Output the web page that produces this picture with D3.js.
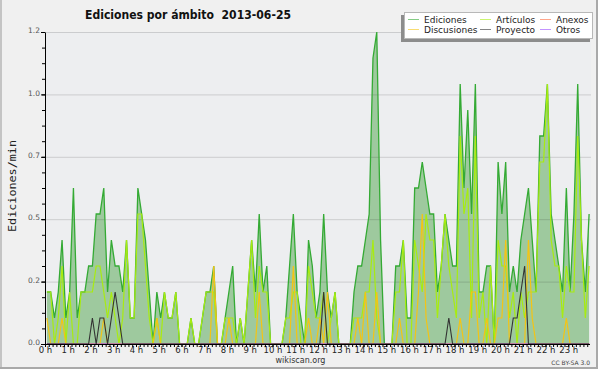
<!DOCTYPE html>
<html lang="es">
<head>
<meta charset="UTF-8">
<title>Ediciones por ámbito</title>
<script src="https://d3js.org/d3.v7.min.js"></script>
<style>
  body { margin: 0; background: #ffffff; }
  svg text { font-family: "DejaVu Sans", sans-serif; }
</style>
</head>
<body>
<div id="chart"></div>
<script>
// one value every 10 minutes, edits per minute
const ediciones = [
  0.2,0.2,0.1,0.2,0.4,0.1,0.2,0.6,0.1,0.2,0.2,0.3,
  0.3,0.5,0.5,0.6,0.2,0.4,0.3,0.3,0.2,0.4,0.1,0.1,
  0.6,0.5,0.4,0.2,0,0.2,0.1,0.2,0.1,0.1,0.2,0,
  0,0,0.1,0,0,0.1,0.2,0.2,0.3,0,0,0.1,
  0.2,0.3,0,0.1,0,0.2,0.4,0.2,0.5,0.2,0.3,0,
  0,0,0,0.1,0.3,0.5,0.2,0.1,0,0.4,0.3,0.1,
  0.2,0.5,0.2,0.1,0.2,0,0,0,0,0.2,0.3,0.3,
  0.4,0.5,1.1,1.2,0.4,0,0,0,0.3,0.3,0.4,0.1,
  0.1,0.6,0.6,0.7,0.6,0.5,0.5,0.2,0.3,0.5,0.4,0.3,
  0.3,1.0,0.6,0.9,0.5,1.0,0.2,0.2,0.3,0.3,0,0.7,
  0.5,0.7,0.2,0.3,0.2,0.4,0.5,0.6,0.4,0.2,0.8,0.8,
  1.0,0.5,0.4,0.3,0.2,0.6,0.2,0.5,1.0,0.4,0.2,0.5
];
const articulos = [
  0.2,0.2,0,0.1,0.3,0,0.2,0,0,0.2,0.2,0.2,
  0.2,0.3,0.3,0.2,0.1,0.2,0.1,0,0.1,0.4,0.1,0.1,
  0.5,0.5,0.3,0.1,0,0.1,0,0.2,0.1,0.1,0.2,0,
  0,0,0.1,0,0,0.1,0.2,0.2,0.2,0,0,0.1,
  0.1,0.1,0,0.1,0,0.2,0.4,0.1,0.3,0.2,0.2,0,
  0,0,0,0.1,0.1,0.2,0.2,0,0,0.3,0.2,0.1,
  0.1,0.2,0,0.1,0.2,0,0,0,0,0.1,0.1,0.1,
  0.2,0.2,0.4,0.1,0,0,0,0,0.2,0.2,0.4,0,
  0,0.4,0.3,0.2,0.5,0.4,0.4,0.1,0.3,0.5,0.3,0.2,
  0.1,0.8,0.5,0.6,0.1,0.8,0.1,0.2,0,0.3,0,0.4,
  0.3,0.3,0.1,0.2,0,0.2,0.1,0.2,0.2,0.2,0.7,0.7,
  1.0,0.4,0.3,0.3,0.1,0.3,0.2,0.2,0.8,0.4,0.1,0.3
];
const discusiones = [
  0.1,0,0,0,0.1,0,0,0,0,0,0,0,
  0,0,0,0.1,0,0,0,0,0,0,0,0,
  0,0,0,0,0,0.1,0,0,0,0,0,0,
  0,0,0,0,0,0,0,0,0.3,0,0,0,
  0.1,0,0,0,0,0,0,0,0.2,0,0,0,
  0,0,0,0,0,0.3,0,0,0,0.1,0,0,
  0.1,0,0.2,0,0,0,0,0,0,0,0.1,0,
  0.2,0,0,0.2,0,0,0,0,0,0.1,0,0,
  0,0,0.2,0.5,0.1,0,0,0,0,0,0,0,
  0,0.1,0,0,0.2,0.2,0,0,0.1,0,0,0.1,
  0.1,0.4,0,0,0,0,0,0.4,0.1,0,0,0,
  0,0,0,0,0,0.1,0,0,0,0,0,0
];
const proyecto = [
  0,0,0,0,0,0,0,0,0,0,0,0,
  0.1,0,0.1,0.1,0,0.1,0.2,0.1,0,0,0,0,
  0,0,0,0,0,0,0,0,0,0,0,0,
  0,0,0,0,0,0,0,0,0,0,0,0,
  0,0,0,0,0,0,0,0,0,0,0,0,
  0,0,0,0,0,0,0,0,0,0,0,0,
  0,0.2,0,0,0,0,0,0,0,0,0,0,
  0,0,0,0,0,0,0,0,0,0,0,0,
  0,0,0,0,0,0,0,0,0,0,0.1,0,
  0,0,0,0,0,0,0,0,0,0,0,0,
  0,0,0,0.1,0.1,0.2,0.3,0,0,0,0,0,
  0,0,0,0,0,0,0,0,0,0,0,0
];
const anexos = [
  0,0,0,0,0,0,0,0,0,0,0,0, 0,0,0,0,0,0,0,0,0,0,0,0,
  0,0,0,0,0,0,0,0,0,0,0,0, 0,0,0,0,0,0,0,0,0,0,0,0,
  0,0,0,0,0,0,0,0,0,0,0,0, 0,0,0,0,0,0,0,0,0,0,0,0,
  0,0,0,0,0,0,0,0,0,0,0,0, 0,0,0,0,0,0,0,0,0,0,0,0,
  0,0,0,0,0,0,0,0,0,0,0,0, 0,0,0,0,0,0,0,0,0,0,0,0,
  0,0,0,0,0,0,0,0,0,0,0,0, 0,0,0,0,0,0,0,0,0,0,0,0
];
const otros = [
  0,0,0,0,0,0,0,0,0,0,0,0, 0,0,0,0,0,0,0,0,0,0,0,0,
  0,0,0,0,0,0,0,0,0,0,0,0, 0,0,0,0,0,0,0,0,0,0,0,0,
  0,0,0,0,0,0,0,0,0,0,0,0, 0,0,0,0,0,0,0,0,0,0,0,0,
  0,0,0,0,0,0,0,0,0,0,0,0, 0,0,0,0,0,0,0,0,0,0,0,0,
  0,0,0,0,0,0,0,0,0,0,0,0, 0,0,0,0,0,0,0,0,0,0,0,0,
  0,0,0,0,0,0,0,0,0,0,0,0, 0,0,0,0,0,0,0,0,0,0,0,0
];
const hourTicks = [0,1,2,3,4,5,6,7,8,9,10,11,12,13,14,15,16,17,18,19,20,21,22,23];
const yTicks = [0, 0.24, 0.48, 0.72, 0.96, 1.2];
const legendNames = ["Ediciones", "Artículos", "Anexos", "Discusiones", "Proyecto", "Otros"];

const W = 600, H = 370;
const plotL = 45, plotR = 591, plotT = 32, plotB = 344;

const svg = d3.select("#chart").append("svg")
  .attr("width", W).attr("height", H);

// canvas + frame
svg.append("rect").attr("x", 0).attr("y", 0).attr("width", 598).attr("height", 369).attr("fill", "#f0f0f0");
svg.append("line").attr("x1", 1).attr("x2", 1).attr("y1", 0).attr("y2", 369).attr("stroke", "#c4c4c4").attr("stroke-width", 2);
svg.append("line").attr("x1", 597).attr("x2", 597).attr("y1", 0).attr("y2", 369).attr("stroke", "#a9a9a9").attr("stroke-width", 2);
svg.append("line").attr("x1", 0).attr("x2", 598).attr("y1", 368).attr("y2", 368).attr("stroke", "#a9a9a9").attr("stroke-width", 2);

svg.append("rect").attr("x", plotL).attr("y", plotT).attr("width", plotR - plotL).attr("height", plotB - plotT)
  .attr("fill", "#edeef0");

const x = d3.scaleLinear().domain([0, 24]).range([plotL, plotR]);
const y = d3.scaleLinear().domain([0, 1.2]).range([plotB, plotT]);

const t = i => (i + 0.5) / 6;   // middle of each 10 minute slot, in hours

const area = d3.area().x((d, i) => x(t(i))).y0(y(0)).y1(d => y(d));
const line = d3.line().x((d, i) => x(t(i))).y(d => y(d));

svg.append("path").datum(ediciones).attr("d", area).attr("fill", "#9ec99e");

// grid on top of the fill, faint
svg.append("g").attr("transform", `translate(${plotL},0)`)
  .call(d3.axisLeft(y).tickValues(yTicks.slice(1)).tickSize(-(plotR - plotL)).tickFormat(""))
  .call(g => g.select(".domain").remove())
  .selectAll("line").attr("stroke", "#000").attr("stroke-opacity", 0.14);

const series = [
  { data: ediciones, color: "#34aa34", w: 1.3 },
  { data: articulos, color: "#a8ec10", w: 1.2 },
  { data: anexos, color: "#ff6a3d", w: 1.2 },
  { data: discusiones, color: "#f4c414", w: 1.2 },
  { data: otros, color: "#9b4dff", w: 1.2 },
  { data: proyecto, color: "#333333", w: 1.1 }
];
series.forEach(s => {
  svg.append("path").datum(s.data).attr("d", line)
    .attr("fill", "none").attr("stroke", s.color).attr("stroke-width", s.w)
    .attr("stroke-linejoin", "miter");
});

// y axis
const yAxis = svg.append("g").attr("transform", `translate(${plotL},0)`)
  .call(d3.axisLeft(y).tickValues(yTicks).tickFormat(d3.format(".1f")).tickSize(4).tickSizeOuter(0));
yAxis.select(".domain").attr("stroke", "#000");
yAxis.selectAll(".tick line").attr("stroke", "#000");
yAxis.selectAll(".tick text").attr("font-size", 7.5).attr("fill", "#555").attr("x", -5).attr("dy", "0.1em")
  .style("font-family", "DejaVu Sans");
svg.append("g").attr("transform", `translate(${plotL},0)`)
  .call(d3.axisLeft(y).tickValues(d3.range(0, 1.2001, 0.06)).tickFormat("").tickSize(3).tickSizeOuter(0))
  .call(g => g.select(".domain").remove());

// x axis
const xAxis = svg.append("g").attr("transform", `translate(0,${plotB})`)
  .call(d3.axisBottom(x).tickValues(hourTicks).tickFormat(d => d + " h").tickSize(3).tickSizeOuter(0));
xAxis.select(".domain").attr("stroke", "#000").attr("d", `M${plotL},0.5H${plotR - 1}`);
xAxis.selectAll(".tick text").attr("font-size", 8.5).attr("fill", "#222").attr("y", 3).attr("dy", "0.71em")
  .style("font-family", "DejaVu Sans");
svg.append("g").attr("transform", `translate(0,${plotB})`)
  .call(d3.axisBottom(x).tickValues(d3.range(0, 144).map(k => k / 6)).tickFormat("").tickSize(3).tickSizeOuter(0))
  .call(g => g.select(".domain").remove());

// titles
svg.append("text").attr("x", 85).attr("y", 18.5)
  .attr("font-size", 13).attr("font-weight", "bold").attr("fill", "#111")
  .attr("textLength", 206).attr("lengthAdjust", "spacingAndGlyphs")
  .style("white-space", "pre")
  .text("Ediciones por ámbito  2013-06-25");

svg.append("text").attr("transform", "translate(16,186) rotate(-90)")
  .attr("text-anchor", "middle").attr("font-size", 11).attr("fill", "#222")
  .style("font-family", "DejaVu Sans Mono")
  .attr("textLength", 92).attr("lengthAdjust", "spacingAndGlyphs")
  .text("Ediciones/min");

svg.append("text").attr("x", 300.5).attr("y", 362.5).attr("text-anchor", "middle")
  .attr("font-size", 8).attr("fill", "#333").text("wikiscan.org");
svg.append("text").attr("x", 590).attr("y", 364.5).attr("text-anchor", "end")
  .attr("font-size", 6).attr("fill", "#444").text("CC BY-SA 3.0");

// legend
svg.append("rect").attr("x", 401).attr("y", 15).attr("width", 189).attr("height", 27).attr("fill", "#8c8c8c");
svg.append("rect").attr("x", 404.5).attr("y", 12.5).attr("width", 188).attr("height", 26)
  .attr("fill", "#fff").attr("stroke", "#b8b8b8");

const legendColors = ["#34aa34", "#a8ec10", "#ff6a3d", "#f4c414", "#333333", "#9b4dff"];
const legX = [408, 480, 540];
const legY = [19.5, 29.5];
legendNames.forEach((name, k) => {
  const cx = legX[k % 3], cy = legY[Math.floor(k / 3)];
  svg.append("line").attr("x1", cx).attr("x2", cx + 11).attr("y1", cy).attr("y2", cy)
    .attr("stroke", legendColors[k]).attr("stroke-opacity", 0.6);
  svg.append("text").attr("x", cx + 16).attr("y", cy + 3)
    .attr("font-size", 9).attr("fill", "#222").text(name);
});
</script>
</body>
</html>
